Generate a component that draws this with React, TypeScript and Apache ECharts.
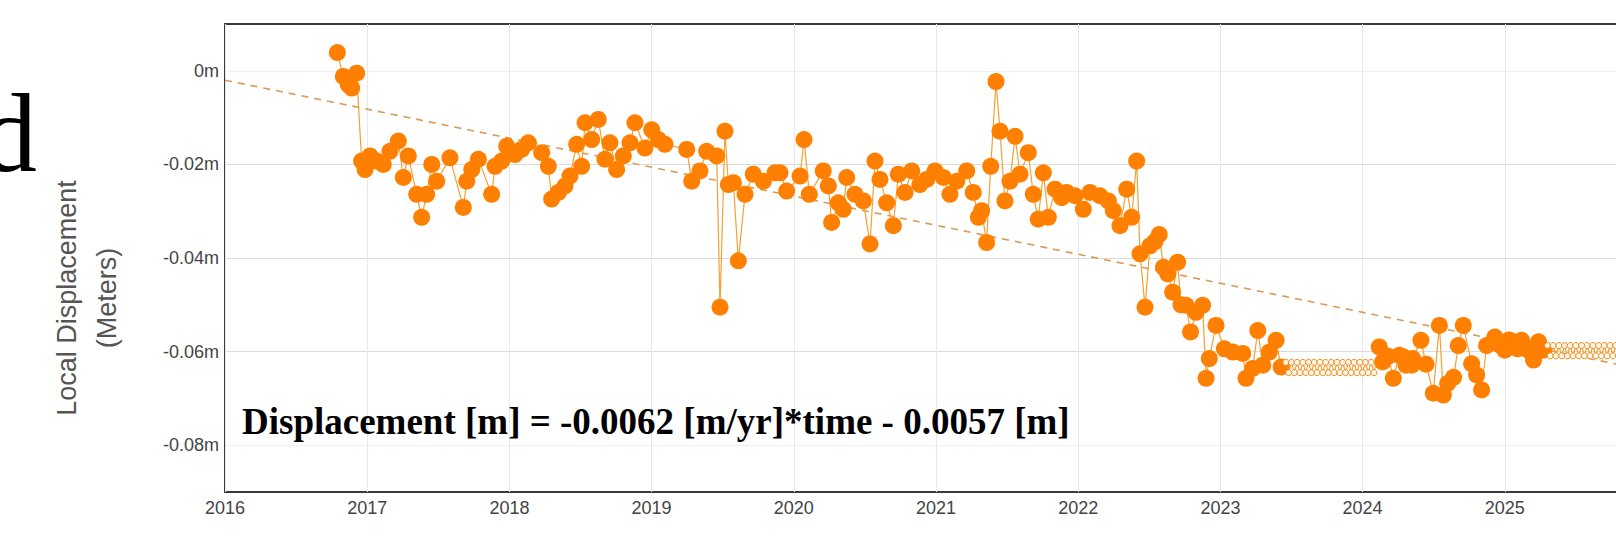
import React, { useEffect, useRef } from "react";
import * as echarts from "echarts";

// ---- data ----
const solidDates = [
  2016.790, 2016.832, 2016.867, 2016.891, 2016.926, 2016.961, 2016.985, 2017.020, 2017.067, 2017.113,
  2017.160, 2017.219, 2017.254, 2017.289, 2017.348, 2017.383, 2017.418, 2017.454, 2017.489, 2017.582,
  2017.676, 2017.700, 2017.735, 2017.782, 2017.875, 2017.899, 2017.946, 2017.981, 2018.039, 2018.086,
  2018.133, 2018.227, 2018.274, 2018.297, 2018.344, 2018.391, 2018.426, 2018.473, 2018.508, 2018.532,
  2018.579, 2018.625, 2018.672, 2018.707, 2018.754, 2018.801, 2018.848, 2018.883, 2018.953, 2019.001,
  2019.047, 2019.094, 2019.247, 2019.282, 2019.340, 2019.387, 2019.458, 2019.481, 2019.516, 2019.540,
  2019.575, 2019.610, 2019.657, 2019.715, 2019.786, 2019.868, 2019.903, 2019.950, 2020.044, 2020.072,
  2020.109, 2020.207, 2020.243, 2020.266, 2020.313, 2020.348, 2020.372, 2020.430, 2020.489, 2020.536,
  2020.571, 2020.606, 2020.653, 2020.700, 2020.735, 2020.782, 2020.829, 2020.887, 2020.935, 2020.993,
  2021.052, 2021.098, 2021.146, 2021.216, 2021.262, 2021.298, 2021.321, 2021.356, 2021.385, 2021.422,
  2021.450, 2021.485, 2021.520, 2021.556, 2021.591, 2021.649, 2021.684, 2021.719, 2021.755, 2021.790,
  2021.837, 2021.884, 2021.919, 2021.977, 2022.036, 2022.083, 2022.153, 2022.212, 2022.247, 2022.294,
  2022.341, 2022.376, 2022.411, 2022.435, 2022.470, 2022.505, 2022.540, 2022.570, 2022.600, 2022.630,
  2022.664, 2022.699, 2022.723, 2022.758, 2022.790, 2022.828, 2022.875, 2022.899, 2022.922, 2022.969,
  2023.028, 2023.087, 2023.157, 2023.180, 2023.227, 2023.263, 2023.298, 2023.344, 2023.392, 2023.427,
  2024.117, 2024.141, 2024.180, 2024.216, 2024.258, 2024.286, 2024.305, 2024.345, 2024.352, 2024.410,
  2024.446, 2024.497, 2024.540, 2024.568, 2024.598, 2024.640, 2024.673, 2024.708, 2024.767, 2024.802,
  2024.837, 2024.872, 2024.930, 2024.965, 2025.001, 2025.030, 2025.059, 2025.090, 2025.118, 2025.166,
  2025.202, 2025.237, 2025.272,
];
const solidValues = [
  0.0039, -0.0012, -0.0030, -0.0037, -0.0005, -0.0193, -0.0211, -0.0182, -0.0193, -0.0200,
  -0.0172, -0.0150, -0.0228, -0.0182, -0.0264, -0.0313, -0.0264, -0.0200, -0.0236, -0.0186,
  -0.0292, -0.0236, -0.0211, -0.0189, -0.0264, -0.0204, -0.0193, -0.0161, -0.0179, -0.0168,
  -0.0154, -0.0175, -0.0204, -0.0274, -0.0260, -0.0246, -0.0225, -0.0157, -0.0204, -0.0111,
  -0.0147, -0.0104, -0.0189, -0.0154, -0.0211, -0.0182, -0.0154, -0.0111, -0.0165, -0.0126,
  -0.0147, -0.0157, -0.0168, -0.0236, -0.0214, -0.0172, -0.0182, -0.0505, -0.0129, -0.0243,
  -0.0239, -0.0406, -0.0264, -0.0221, -0.0236, -0.0218, -0.0218, -0.0257, -0.0225, -0.0147,
  -0.0264, -0.0214, -0.0246, -0.0324, -0.0282, -0.0296, -0.0228, -0.0264, -0.0278, -0.0370,
  -0.0193, -0.0232, -0.0282, -0.0331, -0.0221, -0.0260, -0.0214, -0.0243, -0.0232, -0.0214,
  -0.0228, -0.0264, -0.0236, -0.0214, -0.0260, -0.0313, -0.0299, -0.0367, -0.0204, -0.0023,
  -0.0129, -0.0278, -0.0236, -0.0140, -0.0221, -0.0175, -0.0264, -0.0317, -0.0218, -0.0313,
  -0.0253, -0.0271, -0.0260, -0.0267, -0.0296, -0.0260, -0.0267, -0.0278, -0.0299, -0.0331,
  -0.0253, -0.0313, -0.0193, -0.0391, -0.0505, -0.0374, -0.0365, -0.0350, -0.0420, -0.0434,
  -0.0473, -0.0409, -0.0500, -0.0501, -0.0558, -0.0516, -0.0501, -0.0657, -0.0615, -0.0544,
  -0.0594, -0.0601, -0.0604, -0.0657, -0.0636, -0.0555, -0.0629, -0.0601, -0.0576, -0.0633,
  -0.0590, -0.0622, -0.0610, -0.0657, -0.0608, -0.0611, -0.0629, -0.0629, -0.0615, -0.0576,
  -0.0627, -0.0689, -0.0544, -0.0693, -0.0668, -0.0655, -0.0587, -0.0544, -0.0626, -0.0650,
  -0.0682, -0.0587, -0.0569, -0.0586, -0.0597, -0.0575, -0.0579, -0.0594, -0.0576, -0.0597,
  -0.0618, -0.0579, -0.0597,
];

// gap-filled (hollow) samples
const gapDates = [
  2023.46, 2023.48, 2023.50, 2023.52, 2023.54, 2023.56, 2023.58, 2023.60, 2023.62, 2023.64,
  2023.66, 2023.68, 2023.70, 2023.72, 2023.74, 2023.76, 2023.78, 2023.80, 2023.82, 2023.84,
  2023.86, 2023.88, 2023.90, 2023.92, 2023.94, 2023.96, 2023.98, 2024.00, 2024.02, 2024.04,
  2024.06, 2024.08,
  2025.30, 2025.32, 2025.34, 2025.36, 2025.38, 2025.40, 2025.42, 2025.44, 2025.46, 2025.48,
  2025.50, 2025.52, 2025.54, 2025.56, 2025.58, 2025.60, 2025.62, 2025.64, 2025.66, 2025.68,
  2025.70, 2025.72, 2025.74, 2025.76, 2025.78, 2025.80,
];
const gapValues = [
  -0.0623, -0.0645, -0.0623, -0.0645, -0.0623, -0.0645, -0.0623, -0.0645, -0.0623, -0.0645,
  -0.0623, -0.0645, -0.0623, -0.0645, -0.0623, -0.0645, -0.0623, -0.0645, -0.0623, -0.0645,
  -0.0623, -0.0645, -0.0623, -0.0645, -0.0623, -0.0645, -0.0623, -0.0645, -0.0623, -0.0645,
  -0.0623, -0.0645,
  -0.0587, -0.0609, -0.0587, -0.0609, -0.0587, -0.0609, -0.0587, -0.0609, -0.0587, -0.0609,
  -0.0587, -0.0609, -0.0587, -0.0609, -0.0587, -0.0609, -0.0587, -0.0609, -0.0587, -0.0609,
  -0.0587, -0.0609, -0.0587, -0.0609, -0.0587, -0.0609,
];

// linear trend line endpoints
const trendDates = [2016, 2026];
const trendValues = [-0.0020, -0.0640];

const yTickValues = [0, -0.02, -0.04, -0.06, -0.08];
const yTickLabels = ["0m", "-0.02m", "-0.04m", "-0.06m", "-0.08m"];
const xTickYears = [2016, 2017, 2018, 2019, 2020, 2021, 2022, 2023, 2024, 2025, 2026];

const equationText = "Displacement [m] = -0.0062 [m/yr]*time - 0.0057 [m]";

const ORANGE = "#ff8000";

export default function App() {
  const ref = useRef<HTMLDivElement>(null);

  useEffect(() => {
    if (!ref.current) return;
    const chart = echarts.init(ref.current, null, { renderer: "svg" });

    const yMin = -0.09;
    const yMax = 0.01;
    const yStep = 0.01;
    const splitColors: string[] = [];
    for (let k = 0; k <= Math.round((yMax - yMin) / yStep); k++) {
      const v = yMin + k * yStep;
      const idx = yTickValues.findIndex((t) => Math.abs(t - v) < 1e-6);
      if (idx < 0) splitColors.push("rgba(0,0,0,0)");
      else if (idx === 0 || idx === yTickValues.length - 1) splitColors.push("#f0f0f0");
      else splitColors.push("#dcdcdc");
    }

    const points: any[] = [];
    solidDates.forEach((d, i) => points.push({ value: [d, solidValues[i]] }));
    gapDates.forEach((d, i) =>
      points.push({
        value: [d, gapValues[i]],
        symbolSize: 6,
        itemStyle: { color: "#fff6e8", borderColor: "#f08a1a", borderWidth: 1 },
      })
    );
    points.sort((a, b) => a.value[0] - b.value[0]);

    chart.setOption({
      animation: false,
      backgroundColor: "#ffffff",
      grid: {
        left: 225,
        top: 24,
        right: -31,
        bottom: 54,
        outerBoundsMode: "none",
        containLabel: false,
        show: true,
        borderColor: "#3a3a3a",
        borderWidth: 2,
        backgroundColor: "transparent",
      },
      xAxis: {
        type: "value",
        min: xTickYears[0],
        max: xTickYears[xTickYears.length - 1],
        interval: 1,
        axisLine: { show: false },
        axisTick: { show: false },
        axisLabel: {
          margin: 7,
          fontSize: 18,
          fontFamily: "Liberation Sans, Arial, sans-serif",
          color: "#444",
          showMaxLabel: false,
          formatter: (v: number) => {
            const y = xTickYears.find((t) => Math.abs(t - v) < 1e-6);
            return y === undefined || y === xTickYears[xTickYears.length - 1] ? "" : String(y);
          },
        },
        splitLine: { show: true, lineStyle: { color: "#e8e8e8", width: 1 } },
        name: "Time",
        nameLocation: "middle",
        nameGap: 64,
        nameTextStyle: {
          fontSize: 27,
          fontFamily: "Liberation Sans, Arial, sans-serif",
          color: "#a8a8a8",
        },
      },
      yAxis: {
        type: "value",
        min: yMin,
        max: yMax,
        interval: yStep,
        axisLine: { show: false },
        axisTick: { show: false },
        axisLabel: {
          margin: 6,
          fontSize: 18,
          fontFamily: "Liberation Sans, Arial, sans-serif",
          color: "#444",
          formatter: (v: number) => {
            const i = yTickValues.findIndex((t) => Math.abs(t - v) < 1e-6);
            return i >= 0 ? yTickLabels[i] : "";
          },
        },
        splitLine: { show: true, lineStyle: { color: splitColors, width: 1 } },
      },
      series: [
        {
          type: "line",
          data: trendDates.map((d, i) => [d, trendValues[i]]),
          symbol: "none",
          lineStyle: { color: "#dc9a58", width: 1.6, type: [7, 6] },
          z: 1,
          silent: true,
        },
        {
          type: "line",
          data: points,
          symbol: "circle",
          symbolSize: 17,
          showAllSymbol: true,
          itemStyle: { color: ORANGE },
          lineStyle: { color: "#f5a032", width: 1.2 },
          z: 2,
        },
      ],
      graphic: [
        {
          type: "text",
          x: -19,
          y: 133,
          style: {
            text: "d",
            fontSize: 112,
            fontFamily: "Liberation Serif, Times New Roman, serif",
            fill: "#000",
            align: "left",
            verticalAlign: "middle",
            textAlign: "left",
            textVerticalAlign: "middle",
          },
        },
        {
          type: "text",
          x: 67,
          y: 298,
          rotation: Math.PI / 2,
          style: {
            text: "Local Displacement",
            fontSize: 27,
            fontFamily: "Liberation Sans, Arial, sans-serif",
            fill: "#555",
            align: "center",
            verticalAlign: "middle",
            textAlign: "center",
            textVerticalAlign: "middle",
          },
        },
        {
          type: "text",
          x: 107,
          y: 298,
          rotation: Math.PI / 2,
          style: {
            text: "(Meters)",
            fontSize: 27,
            fontFamily: "Liberation Sans, Arial, sans-serif",
            fill: "#555",
            align: "center",
            verticalAlign: "middle",
            textAlign: "center",
            textVerticalAlign: "middle",
          },
        },
        {
          type: "text",
          x: 242,
          y: 421,
          z: 10,
          style: {
            text: equationText,
            fontSize: 37,
            fontWeight: "bold",
            fontFamily: "Liberation Serif, Times New Roman, serif",
            fill: "#000",
            align: "left",
            verticalAlign: "middle",
            textAlign: "left",
            textVerticalAlign: "middle",
          },
        },
      ],
    });

    return () => chart.dispose();
  }, []);

  return (
    <div
      ref={ref}
      style={{ position: "fixed", left: 0, top: 0, width: 1616, height: 546, background: "#fff" }}
    />
  );
}
